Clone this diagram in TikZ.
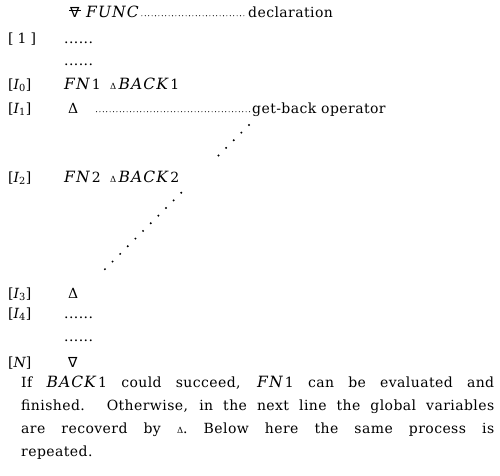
\documentclass[tikz,border=0pt]{standalone}
\usepackage{fontspec}
\setmainfont{DejaVu Serif}[LetterSpace=3]
\newfontfamily\symfont{DejaVu Sans}
\usetikzlibrary{calc}
\newcommand{\smallD}{{\fontsize{8.5}{8.5}\selectfont Δ}}
\newcommand{\itl}[1]{{\fontsize{15.5}{16}\selectfont\itshape\addfontfeature{LetterSpace=7}#1}}
\begin{document}
\begin{tikzpicture}[x=1pt,y=-1pt,
  lbl/.style={anchor=base west, inner sep=0pt, font=\fontsize{14}{16}\selectfont},
  lead/.style={line width=1.1pt, dash pattern=on 0pt off 3.4pt, line cap=round},
  sparse/.style={line width=2.2pt, dash pattern=on 0pt off 10.8pt, line cap=round},
  bar/.style={line width=0.7pt}
]
\useasboundingbox (0,0) rectangle (500,475);
% header line
\node[lbl] (lock) at (70,17) {\symfont ∇};
\draw[bar] ([xshift=-1pt,yshift=1.5pt]lock.west) -- ([xshift=1pt,yshift=1.5pt]lock.east);
\node[lbl] (func) at (86,17) {\itl{FUNC}};
\node[lbl] (decl) at (248,17) {declaration};
\draw[lead] ([xshift=3pt,yshift=1.3pt]func.base east) -- ([xshift=-2pt,yshift=1.3pt]decl.base west);
% [1]
\node[lbl] (b1) at (8,43) {[\hspace{4pt}1\hspace{4pt}]};
\node[lbl] (e1) at (64,43) {......};
\node[lbl] (e2) at (64,65) {......};
% [I0]
\node[lbl] (bi0) at (8,89) {[{\itshape I}\textsubscript{0}]};
\node[lbl] (fn1) at (64,89) {\itl{FN}\,1};
\node[lbl] (bk1) at (110,89) {\smallD\,\itl{BACK}\,1};
% [I1]
\node[lbl] (bi1) at (8,113) {[{\itshape I}\textsubscript{1}]};
\node[lbl] (d1) at (68,113) {Δ};
\node[lbl] (gb) at (252,113) {get-back operator};
\draw[lead] ([xshift=18pt,yshift=1.3pt]d1.base east) -- ([xshift=-2pt,yshift=1.3pt]gb.base west);
% [I2]
\node[lbl] (bi2) at (8,182) {[{\itshape I}\textsubscript{2}]};
\node[lbl] (fn2) at (64,182) {\itl{FN}\,2};
\node[lbl] (bk2) at (110,182) {\smallD\,\itl{BACK}\,2};
% [I3]
\node[lbl] (bi3) at (8,298) {[{\itshape I}\textsubscript{3}]};
\node[lbl] (d3) at (68,298) {Δ};
% [I4]
\node[lbl] (bi4) at (8,318) {[{\itshape I}\textsubscript{4}]};
\node[lbl] (e3) at (64,318) {......};
\node[lbl] (e4) at (64,341) {......};
% [N]
\node[lbl] (bn) at (8,367) {[{\itshape N}]};
\node[lbl] (dn) at (68,367) {\symfont ∇};
% diagonal get-back connector, broken around BACK 2
\coordinate (gs) at ($(gb.base west)+(-3,12)$);
\coordinate (ge) at ($(d3.north east)+(20,-12)$);
\draw[sparse] (gs) -- ($(gs)!0.25!(ge)$);
\draw[sparse] ($(gs)!0.45!(ge)$) -- (ge);
% explanation
\node[anchor=north west, inner sep=0pt, text width=473pt, align=justify,
      font=\fontsize{14}{22.8}\selectfont] (txt) at (21,376)
  {If \itl{BACK}\,1 could succeed, \itl{FN}\,1 can be evaluated and\linebreak
   finished. Otherwise, in the next line the global variables\linebreak
   are recoverd by \smallD. Below here the same process is\linebreak
   repeated.};
\end{tikzpicture}
\end{document}
